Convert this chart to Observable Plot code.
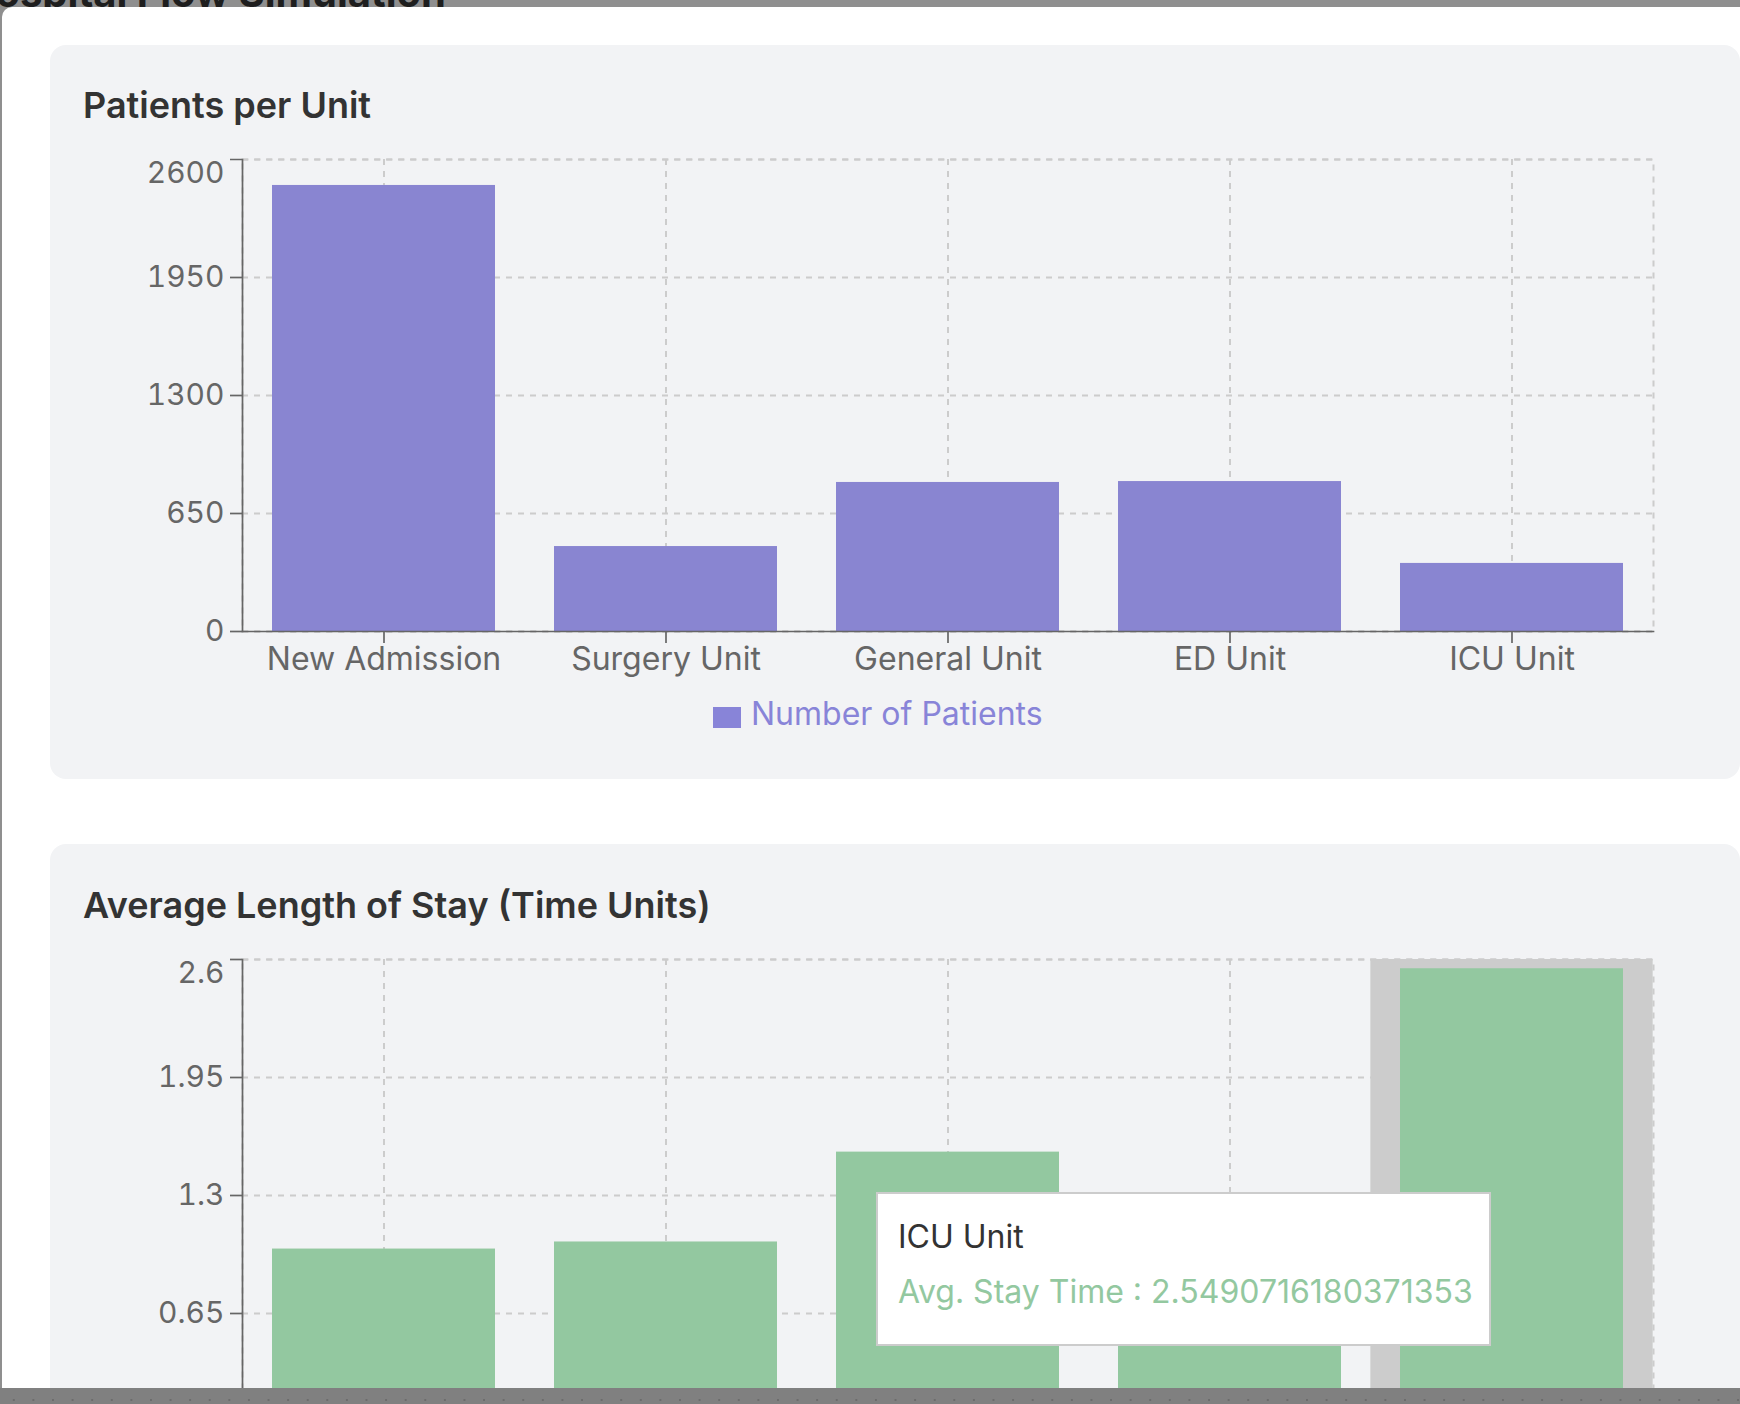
<!DOCTYPE html>
<html><head><meta charset="utf-8">
<script src="https://cdn.jsdelivr.net/npm/d3@7"></script>
<script src="https://cdn.jsdelivr.net/npm/@observablehq/plot@0.6"></script>
<style>
html,body{margin:0;padding:0;}
body{width:1740px;height:1404px;background:#8f8f8f;position:relative;overflow:hidden;font-family:Inter, "Noto Sans", sans-serif;}
#bg-title{position:absolute;right:1294px;top:-27.5px;font-size:40px;line-height:1;font-weight:700;color:#1e1e1e;white-space:nowrap;}
#bottom{position:absolute;left:0;top:1388px;width:1740px;height:16px;background-color:#808080;background-image:radial-gradient(circle,#6c6c6c 0.9px,transparent 1.3px);background-size:19.6px 16px;background-position:4px 4px;}
#modal{position:absolute;left:2px;top:7px;width:1738px;height:1381px;background:#fff;border-top-left-radius:10px;overflow:hidden;}
.panel{position:absolute;left:48px;width:1690px;background:#f2f3f5;border-radius:16px;}
.title{position:absolute;left:81px;font-size:36px;line-height:1;font-weight:600;color:#333;white-space:nowrap;}
.chart{position:absolute;left:-2px;}
.chart svg{display:block;}
#legend-swatch{position:absolute;left:711px;top:700px;width:28px;height:21px;background:#8884d8;}
#legend-text{position:absolute;left:749px;top:691.1px;font-size:32px;line-height:1;color:#8884d8;white-space:nowrap;}
#tooltip{position:absolute;left:874px;top:1185px;width:615px;height:154px;box-sizing:border-box;background:#fff;border:2px solid #ccc;}
#tooltip div{position:absolute;left:20px;font-size:32px;line-height:1;white-space:nowrap;}
</style>
</head>
<body>
<div id="bg-title">Hospital Flow Simulation</div>
<div id="bottom"></div>
<div id="modal">
  <div class="panel" style="top:38px;height:734px;"></div>
  <div class="panel" style="top:837px;height:800px;"></div>
  <div class="title" id="t1" style="top:79.6px;"></div>
  <div class="title" id="t2" style="top:879.6px;"></div>
  <div class="chart" id="c1" style="top:123px;"></div>
  <div id="legend-swatch"></div>
  <div id="legend-text"></div>
  <div class="chart" id="c2" style="top:923px;"></div>
  <div id="tooltip"><div id="tt1" style="top:27.1px;color:#333;"></div><div id="tt2" style="top:82.4px;color:#93c8a0;"></div></div>
</div>
<script>
// ---- data ----
const units = ["New Admission", "Surgery Unit", "General Unit", "ED Unit", "ICU Unit"];
const patients = [2457, 468, 821, 826, 375];
const avgStay = [1.005, 1.044, 1.539, 1.1, 2.5490716180371353];
const patientTicks = [0, 650, 1300, 1950, 2600];
const stayTicks = [0, 0.65, 1.3, 1.95, 2.6];
const chart1Title = "Patients per Unit";
const chart2Title = "Average Length of Stay (Time Units)";
const legendLabel = "Number of Patients";
const tooltipUnit = "ICU Unit";
const tooltipLabel = "Avg. Stay Time";

document.getElementById("t1").textContent = chart1Title;
document.getElementById("t2").textContent = chart2Title;
document.getElementById("legend-text").textContent = legendLabel;
document.getElementById("tt1").textContent = tooltipUnit;
document.getElementById("tt2").textContent = tooltipLabel + " : " + avgStay[units.indexOf(tooltipUnit)];

function makeChart(values, ticks, fill, cursorUnit, showXLabels) {
  const W = 1740, mL = 242, mR = 87, mT = 29, mB = 60, H = 561;
  const pad = 0.21;
  const step = (W - mL - mR) / units.length;
  const top = ticks[ticks.length - 1];
  const data = units.map((u, i) => ({unit: u, value: values[i]}));
  const grid = {stroke: "#ccc", strokeOpacity: 1, strokeWidth: 2, strokeDasharray: "6 6"};
  const marks = [];
  if (cursorUnit) {
    marks.push(Plot.barY([cursorUnit], {x: d => d, y1: 0, y2: top, fill: "#ccc",
      insetLeft: -step * pad / 2, insetRight: -step * pad / 2}));
  }
  marks.push(
    Plot.gridY(ticks, grid),
    Plot.gridX(units, grid),
    Plot.frame(grid),
    Plot.barY(data, {x: "unit", y: "value", fill}),
    Plot.axisY(ticks, {tickSize: 12, tickPadding: 6, strokeWidth: 1.7,
      tickFormat: d => d === top ? "" : String(d)}),
    Plot.axisY([top], {tickSize: 0, tickPadding: 18, dy: 13.5, tickFormat: d => String(d)})
  );
  if (showXLabels) {
    marks.push(Plot.axisX(units, {tickSize: 12, tickPadding: 4, strokeWidth: 1.7, fontSize: 32}));
  }
  marks.push(
    Plot.frame({anchor: "left", stroke: "#666", strokeWidth: 1.7}),
    Plot.frame({anchor: "bottom", stroke: "#666", strokeWidth: 1.7})
  );
  return Plot.plot({
    width: W, height: H,
    marginLeft: mL, marginRight: mR, marginTop: mT, marginBottom: mB,
    x: {type: "band", domain: units, paddingInner: pad, paddingOuter: pad / 2, label: null,
        axis: showXLabels ? undefined : null},
    y: {domain: [0, top], label: null},
    style: {fontFamily: "Inter, 'Noto Sans', sans-serif", fontSize: "30px", color: "#666",
      background: "transparent", overflow: "visible"},
    marks
  });
}

document.getElementById("c1").append(makeChart(patients, patientTicks, "#8985d1", null, true));
document.getElementById("c2").append(makeChart(avgStay, stayTicks, "#93c8a0", tooltipUnit, false));
</script>
</body></html>
